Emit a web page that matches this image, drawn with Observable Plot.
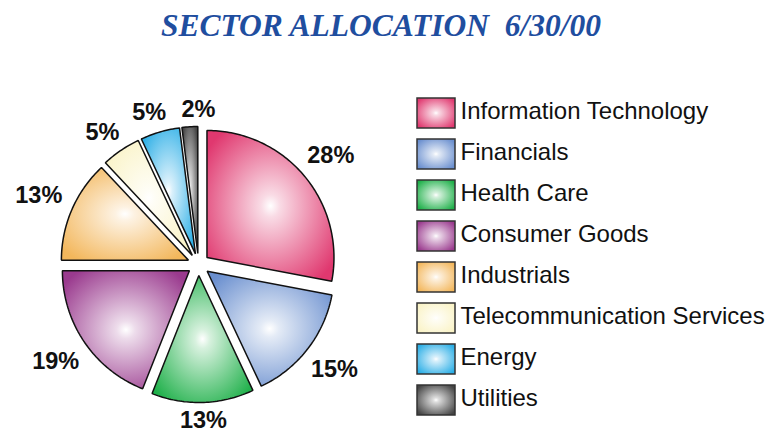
<!DOCTYPE html>
<html>
<head>
<meta charset="utf-8">
<script src="https://cdn.jsdelivr.net/npm/d3@7"></script>
<script src="https://cdn.jsdelivr.net/npm/@observablehq/plot@0.6"></script>
<style>
  html, body { margin: 0; padding: 0; background: #fff; }
  #title { height: 45px; box-sizing: border-box; padding-top: 8px; margin: 0;
    font: bold italic 31.5px/36px "Liberation Serif", "Times New Roman", serif;
    color: #1f4e9f; text-align: center; width: 762px; white-space: pre; }
  #chart svg { display: block; }
</style>
</head>
<body>
<div id="title">SECTOR ALLOCATION  6/30/00</div>
<div id="chart"></div>
<svg width="0" height="0" style="position:absolute">
  <defs id="grads"></defs>
</svg>
<script>
// ---- data ----
const sectors = ["Information Technology", "Financials", "Health Care", "Consumer Goods",
  "Industrials", "Telecommunication Services", "Energy", "Utilities"];
const shares = [28, 15, 13, 19, 13, 5, 5, 2];
const labels = ["28%", "15%", "13%", "19%", "13%", "5%", "5%", "2%"];
const edgeColors = ["#e0386f", "#6a8fcf", "#1fb04a", "#9a3a8e", "#f3b75c", "#faf3c6", "#2aaee6", "#444444"];

// ---- gradients ----
const defs = d3.select("#grads");
const gradIds = sectors.map((s, i) => "grad" + i);
sectors.forEach((s, i) => {
  const g = defs.append("radialGradient").attr("id", gradIds[i])
    .attr("cx", "50%").attr("cy", "50%").attr("r", "62%");
  const c = edgeColors[i];
  g.append("stop").attr("offset", "0%").attr("stop-color", "#ffffff");
  g.append("stop").attr("offset", "12%").attr("stop-color", d3.interpolateRgb("#ffffff", c)(0.18));
  g.append("stop").attr("offset", "100%").attr("stop-color", c);
});

// ---- layout (pixels) ----
const W = 766, H = 385;
const R = 127;              // pie radius px
const cxp = 198, cyp = 219; // pie centre in svg px
const explode = 11;
const toX = px => (px - cxp) / R;
const toY = py => (cyp - py) / R;

// ---- pie geometry ----
const total = d3.sum(shares);
const pts = [];
const mids = [];
let acc = 0;
sectors.forEach((s, i) => {
  const a0 = acc / total * 2 * Math.PI;
  acc += shares[i];
  const a1 = acc / total * 2 * Math.PI;
  const am = (a0 + a1) / 2;
  mids.push(am);
  const ox = explode / R * Math.sin(am), oy = explode / R * Math.cos(am);
  pts.push({sector: s, x: ox, y: oy});
  const n = Math.max(2, Math.ceil((a1 - a0) / (Math.PI / 180)));
  for (let k = 0; k <= n; k++) {
    const a = a0 + (a1 - a0) * k / n;
    pts.push({sector: s, x: ox + Math.sin(a), y: oy + Math.cos(a)});
  }
});

// label angles: spread apart neighbours that are too close
const la = mids.slice();
const minSep = 18 * Math.PI / 180;
for (let it = 0; it < 60; it++) {
  for (let i = 0; i < la.length - 1; i++) {
    const d = la[i + 1] - la[i];
    if (d < minSep) { const p = (minSep - d) / 2; la[i] -= p; la[i + 1] += p; }
  }
}
const labelRows = labels.map((t, i) => {
  const am = la[i];
  const w = t.length * 16, h = 10;
  const rl = R + explode + 12 + (w / 2) * Math.abs(Math.sin(am)) + (h / 2) * Math.abs(Math.cos(am));
  return {label: t, x: rl / R * Math.sin(am), y: rl / R * Math.cos(am)};
});

// ---- legend rows ----
const legX1 = 417, legX2 = 455, legTop = 53, legH = 30, legStep = 41, legTextX = 460;
const legend = sectors.map((s, i) => ({
  sector: s,
  x1: toX(legX1), x2: toX(legX2),
  y1: toY(legTop + i * legStep), y2: toY(legTop + i * legStep + legH),
  tx: toX(legTextX), ty: toY(legTop + i * legStep + 12.5)
}));

const chart = Plot.plot({
  width: W, height: H,
  margin: 0,
  x: {domain: [toX(0), toX(W)], axis: null},
  y: {domain: [toY(H), toY(0)], axis: null},
  color: {domain: sectors, range: gradIds.map(id => `url(#${id})`)},
  marks: [
    Plot.line(pts, {x: "x", y: "y", z: "sector", fill: "sector", stroke: "#111", strokeWidth: 1.5,
      curve: "linear-closed", strokeLinejoin: "miter"}),
    Plot.text(labelRows, {x: "x", y: "y", text: "label", fontSize: 23.5, fontWeight: "bold",
      fill: "#111", fontFamily: "Liberation Sans, Arial, sans-serif"}),
    Plot.rect(legend, {x1: "x1", x2: "x2", y1: "y1", y2: "y2", fill: "sector", stroke: "#333", strokeWidth: 1.5}),
    Plot.text(legend, {x: "tx", y: "ty", text: "sector", textAnchor: "start", fontSize: 24,
      fill: "#111", fontFamily: "Liberation Sans, Arial, sans-serif"})
  ]
});
document.getElementById("chart").appendChild(chart);
</script>
</body>
</html>
